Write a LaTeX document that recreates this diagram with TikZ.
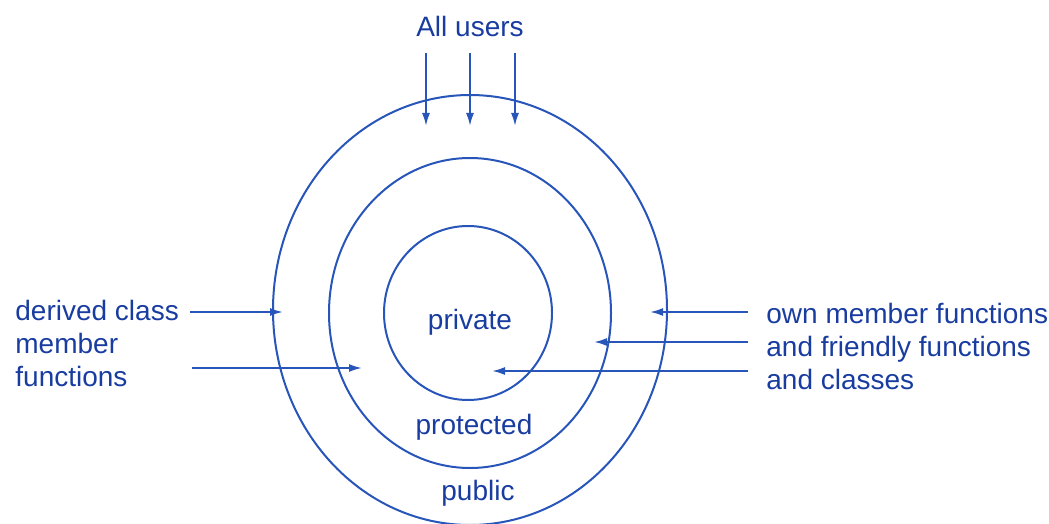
\documentclass[tikz,border=0pt]{standalone}
\usepackage{fontspec}
\setmainfont{Liberation Sans}
\usepackage{tikz}
\usetikzlibrary{arrows.meta,positioning}

\definecolor{ringblue}{RGB}{40,85,185}
\definecolor{textblue}{RGB}{25,60,160}

\begin{document}
\begin{tikzpicture}[x=0.5pt, y=-0.5pt,
      ring/.style={draw=ringblue, line width=1pt},
      lbl/.style={text=textblue, font=\fontsize{14}{16.5}\selectfont, inner sep=0pt},
      feed/.style={draw=ringblue, line width=1pt, -{Latex[length=6.5pt,width=4pt]}}]
      \useasboundingbox (0,0) rectangle (1049,524);

      % access rings
      \draw[ring] (470,310) ellipse [x radius=197, y radius=215];
      \draw[ring] (470,313) ellipse [x radius=141, y radius=155];
      \draw[ring] (468,313) ellipse [x radius=84, y radius=87];

      \node[lbl] (Private) at (470,322) {private};
      \node[lbl] (Protected) at (474,427) {protected};
      \node[lbl] (Public) [below = 85.5pt of Private.center, anchor=center, xshift=4pt] {public};
      \node[lbl] (Users) at (470,26) {All users};

      \node[lbl, align=left, anchor=west] (Derived) at (15,343)
           {derived class\\member\\functions};
      \node[lbl, align=left, anchor=west] (Own) at (766,346)
           {own member functions\\and friendly functions\\and classes};

      % everybody reaches the public part
      \foreach \x [count=\i] in {426,470,515} {
        \coordinate (u\i) at (\x,53);
        \coordinate (v\i) at (\x,126);
        \draw[feed] (u\i) -- (v\i);
      }

      % derived classes
      \coordinate (d1) at (190,312);
      \coordinate (e1) at (283,312);
      \coordinate (d2) at (192,368);
      \coordinate (e2) at (362,368);
      \draw[feed] (d1) -- (e1);
      \draw[feed] (d2) -- (e2);

      % members and friends
      \coordinate (o1) at (748,312);
      \coordinate (p1) at (650,312);
      \coordinate (o2) at (748,342);
      \coordinate (p2) at (594,342);
      \coordinate (o3) at (748,371);
      \coordinate (p3) at (492,371);
      \draw[feed] (o1) -- (p1);
      \draw[feed] (o2) -- (p2);
      \draw[feed] (o3) -- (p3);
\end{tikzpicture}
\end{document}
